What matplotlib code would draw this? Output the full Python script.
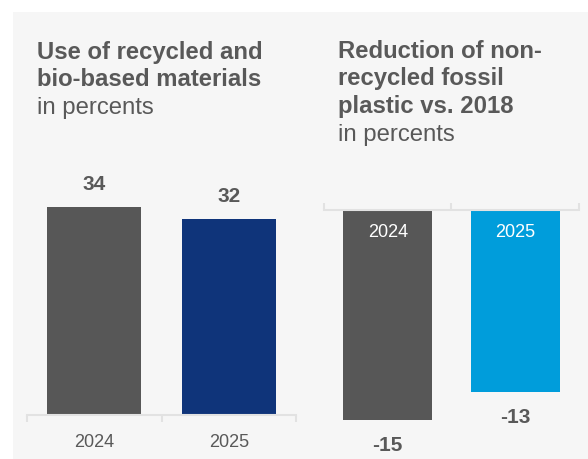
import matplotlib
matplotlib.use('Agg')
import matplotlib.pyplot as plt
from matplotlib.patches import Rectangle

# Data
years = ["2024", "2025"]
recycled_share = [34, 32]
fossil_reduction = [-15, -13]

recycled_colors = ["#575757", "#0f347a"]
fossil_colors = ["#575757", "#009ddb"]

W, H = 588, 459
TEXT = "#595959"
AXIS = "#e2e2e2"
plt.rcParams['font.family'] = ['Liberation Sans', 'DejaVu Sans']

fig = plt.figure(figsize=(W / 100, H / 100), dpi=100, facecolor="white")

# light grey panel behind everything
fig.patches.append(Rectangle((13 / W, 0), 1 - 13 / W, 1 - 12 / H,
                             transform=fig.transFigure, facecolor="#f6f6f6",
                             edgecolor="none", zorder=-1))


def px_axes(left, right, top, bottom):
    return fig.add_axes([left / W, 1 - bottom / H, (right - left) / W, (bottom - top) / H])


def title_lines(x, lines, y0, step=27.5):
    for i, (txt, bold) in enumerate(lines):
        fig.text(x / W, 1 - (y0 + i * step) / H, txt, fontsize=17.2, color=TEXT,
                 fontweight="bold" if bold else "normal", va="baseline", ha="left")


title_lines(37, [("Use of recycled and", True), ("bio-based materials", True),
                 ("in percents", False)], 59)
title_lines(338, [("Reduction of non-", True), ("recycled fossil", True),
                  ("plastic vs. 2018", True), ("in percents", False)], 58)

# Left chart: recycled and bio-based materials
ax1 = px_axes(27, 296, 170, 415)
ax1.set_facecolor("none")
ax1.bar(range(len(years)), recycled_share, width=0.7, color=recycled_colors, zorder=2)
ax1.set_xlim(-0.5, 1.5)
ax1.set_ylim(0, 40)
for s in ["top", "left", "right"]:
    ax1.spines[s].set_visible(False)
ax1.spines["bottom"].set_color(AXIS)
ax1.spines["bottom"].set_linewidth(1.5)
ax1.set_yticks([])
ax1.set_xticks(range(len(years)))
ax1.set_xticklabels(years, fontsize=13, color=TEXT)
ax1.set_xticks([-0.5, 0.5, 1.5], minor=True)
ax1.tick_params(axis="x", which="major", length=0, pad=14)
ax1.tick_params(axis="x", which="minor", length=5, width=1.5, color=AXIS, direction="out")
for i, v in enumerate(recycled_share):
    ax1.annotate(str(v), xy=(i, v), xytext=(0, 16), textcoords="offset points",
                 ha="center", va="center", fontsize=15, fontweight="bold", color=TEXT,
                 annotation_clip=False)

# Right chart: reduction of non-recycled fossil plastic
ax2 = px_axes(324, 579, 210, 448)
ax2.set_facecolor("none")
ax2.bar(range(len(years)), fossil_reduction, width=0.7, color=fossil_colors, zorder=2)
ax2.set_xlim(-0.5, 1.5)
ax2.set_ylim(-17, 0)
for s in ["bottom", "left", "right"]:
    ax2.spines[s].set_visible(False)
ax2.spines["top"].set_color(AXIS)
ax2.spines["top"].set_linewidth(1.5)
ax2.set_yticks([])
ax2.set_xticks([])
ax2.set_xticks([-0.5, 0.5, 1.5], minor=True)
ax2.tick_params(axis="x", which="minor", bottom=False, top=True, length=5, width=1.5,
                color=AXIS, direction="out")
for i, v in enumerate(fossil_reduction):
    ax2.annotate(years[i], xy=(i, 0), xytext=(0, -16), textcoords="offset points",
                 ha="center", va="center", fontsize=13, color="white", zorder=3)
    ax2.annotate(str(v), xy=(i, v), xytext=(0, -18.5), textcoords="offset points",
                 ha="center", va="center", fontsize=15, fontweight="bold", color=TEXT,
                 annotation_clip=False)

fig.savefig("out.png", dpi=100, facecolor="white")
